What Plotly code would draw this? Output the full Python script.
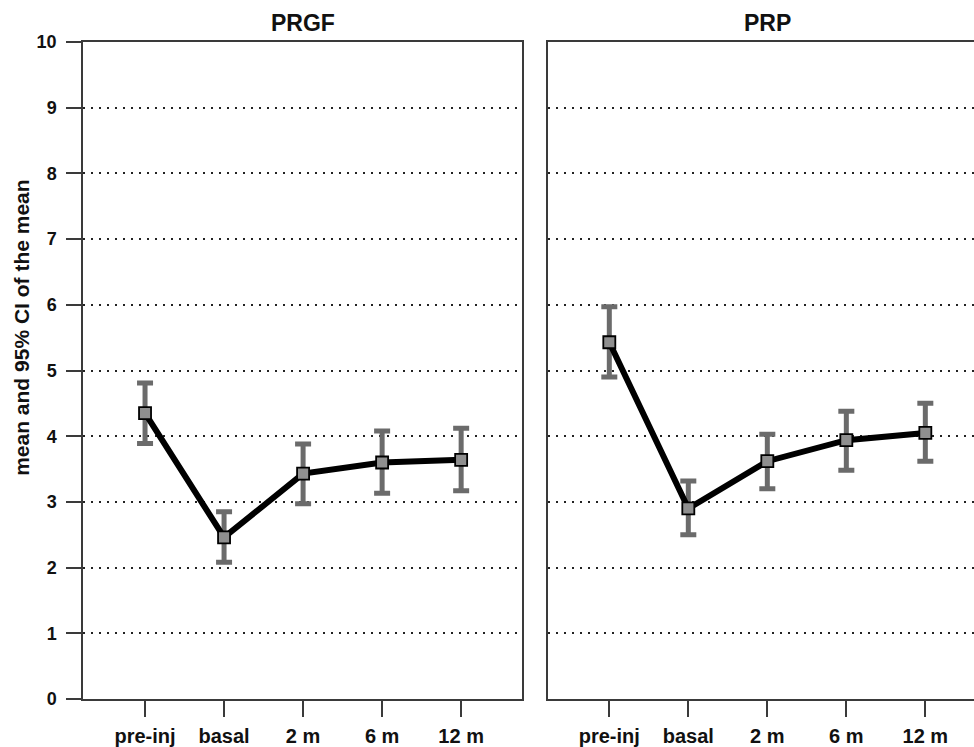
import plotly.graph_objects as go

categories = ["pre-inj", "basal", "2 m", "6 m", "12 m"]

prgf_mean = [4.35, 2.46, 3.43, 3.60, 3.64]
prgf_upper = [4.81, 2.85, 3.88, 4.08, 4.12]
prgf_lower = [3.89, 2.08, 2.97, 3.13, 3.17]

prp_mean = [5.43, 2.90, 3.62, 3.94, 4.05]
prp_upper = [5.97, 3.32, 4.03, 4.38, 4.50]
prp_lower = [4.90, 2.50, 3.20, 3.48, 3.62]

panel_titles = ["PRGF", "PRP"]
y_title = "mean and 95% CI of the mean"
y_ticks = list(range(0, 11))

W, H = 974, 747
ML, MR, MT, MB = 83, 0, 42, 43
plot_w = W - ML - MR
left_dom = [0, (522 - ML) / plot_w]
right_dom = [(548 - ML) / plot_w, 1]

ERR_COLOR = "#6b6b6b"
LINE_COLOR = "#000000"
AXIS_COLOR = "#3a3a3a"

fig = go.Figure()

def add_panel(mean, upper, lower, xa, ya):
    plus = [u - m for u, m in zip(upper, mean)]
    minus = [m - l for m, l in zip(mean, lower)]
    fig.add_trace(go.Scatter(
        x=categories, y=mean, mode="markers",
        marker=dict(size=1, color="rgba(0,0,0,0)"),
        error_y=dict(type="data", symmetric=False, array=plus, arrayminus=minus,
                     color=ERR_COLOR, thickness=5, width=8),
        xaxis=xa, yaxis=ya, showlegend=False, hoverinfo="skip"))
    fig.add_trace(go.Scatter(
        x=categories, y=mean, mode="lines",
        line=dict(color=LINE_COLOR, width=6),
        xaxis=xa, yaxis=ya, showlegend=False))
    fig.add_trace(go.Scatter(
        x=categories, y=mean, mode="markers",
        marker=dict(symbol="square", size=12, color="#8f8f8f",
                    line=dict(color="#000000", width=1.8)),
        xaxis=xa, yaxis=ya, showlegend=False))

add_panel(prgf_mean, prgf_upper, prgf_lower, "x", "y")
add_panel(prp_mean, prp_upper, prp_lower, "x2", "y2")

xfont = dict(family="Liberation Sans, Arial", size=20, color="#111111", weight="bold")
yfont = dict(family="Liberation Sans, Arial", size=18, color="#111111", weight="bold")

common_x = dict(type="category", categoryorder="array", categoryarray=categories,
                showline=True, linecolor=AXIS_COLOR, linewidth=1.5, mirror=True,
                ticks="outside", ticklen=16, tickwidth=1.5, tickcolor=AXIS_COLOR,
                showgrid=False, zeroline=False, tickfont=xfont, ticklabelstandoff=2)

grid_style = dict(showgrid=True, gridcolor="#222222", gridwidth=2.2, griddash="2px,6px")

fig.update_layout(
    width=W, height=H,
    margin=dict(l=ML, r=MR, t=MT, b=MB),
    paper_bgcolor="white", plot_bgcolor="white",
    xaxis=dict(domain=left_dom, range=[-0.785, 4.77], anchor="y", **common_x),
    xaxis2=dict(domain=right_dom, range=[-0.776, 4.616], anchor="y2", **common_x),
    yaxis=dict(range=[0, 10], tickvals=y_ticks, ticktext=[str(v) for v in y_ticks],
               showline=True, linecolor=AXIS_COLOR, linewidth=1.5, mirror=True,
               ticks="outside", ticklen=15, tickwidth=1.5, tickcolor=AXIS_COLOR,
               zeroline=False, tickfont=yfont, ticklabelstandoff=6, **grid_style),
    yaxis2=dict(range=[0, 10], tickvals=y_ticks, showticklabels=False,
                anchor="x2", showline=True, linecolor=AXIS_COLOR, linewidth=1.5, mirror=False,
                ticks="", zeroline=False, **grid_style),
    font=dict(family="Liberation Sans, Arial", color="#111111"),
)

for title, dom in zip(panel_titles, [left_dom, [right_dom[0], right_dom[0] + (left_dom[1] - left_dom[0])]]):
    fig.add_annotation(text="<b>" + title + "</b>", xref="paper", yref="paper",
                       x=(dom[0] + dom[1]) / 2, y=1 + (MT - 22.5) / (H - MT - MB),
                       xanchor="center", yanchor="middle", showarrow=False,
                       font=dict(family="Liberation Sans, Arial", size=23, color="#111111"))

fig.add_annotation(text="<b>" + y_title + "</b>", xref="paper", yref="paper",
                   x=(22 - ML) / plot_w, y=(704 - 330) / (H - MT - MB),
                   xanchor="center", yanchor="middle", textangle=-90, showarrow=False,
                   font=dict(family="Liberation Sans, Arial", size=21, color="#111111"))

fig.write_html("out.html")
